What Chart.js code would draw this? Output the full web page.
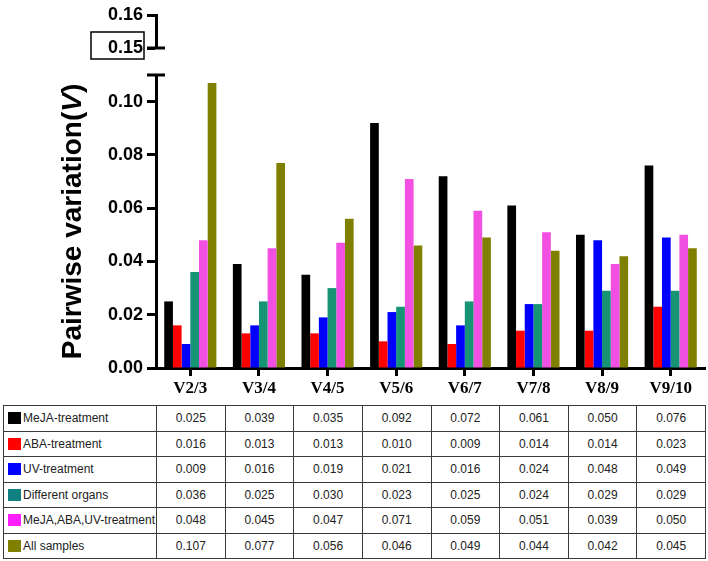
<!DOCTYPE html>
<html>
<head>
<meta charset="utf-8">
<script src="https://cdn.jsdelivr.net/npm/chart.js@4.4.1/dist/chart.umd.min.js"></script>
<style>
  html, body { margin: 0; padding: 0; background: #fff; }
  #wrap { position: relative; width: 708px; height: 561px; overflow: hidden; }
  #chartBox { position: absolute; left: 0; top: 0; width: 708px; height: 400px; }
  #tabela { position: absolute; left: 3px; top: 405px; width: 702px; table-layout: fixed;
    border-collapse: collapse; font-family: 'Liberation Sans', Arial, sans-serif; font-size: 12px; color: #222; }
  #tabela td { border: 1px solid #3a3a3a; padding: 0; text-align: center; white-space: nowrap; }
  #tabela tr { height: 25.5px; }
  #tabela td.nome { text-align: left; padding-left: 4px; }
  .quad { display: inline-block; width: 13px; height: 12px; vertical-align: -2px; margin-right: 2px; }
</style>
</head>
<body>
<div id="wrap">
  <div id="chartBox"><canvas id="variacaoChart" width="708" height="400"></canvas></div>
  <table id="tabela"></table>
</div>
<script>
// Dados do gráfico
const categorias = ['V2/3', 'V3/4', 'V4/5', 'V5/6', 'V6/7', 'V7/8', 'V8/9', 'V9/10'];
const series = ['MeJA-treatment', 'ABA-treatment', 'UV-treatment', 'Different organs', 'MeJA,ABA,UV-treatment', 'All samples'];
const meja = [0.025, 0.039, 0.035, 0.092, 0.072, 0.061, 0.050, 0.076];
const aba = [0.016, 0.013, 0.013, 0.010, 0.009, 0.014, 0.014, 0.023];
const uv = [0.009, 0.016, 0.019, 0.021, 0.016, 0.024, 0.048, 0.049];
const orgaos = [0.036, 0.025, 0.030, 0.023, 0.025, 0.024, 0.029, 0.029];
const combinado = [0.048, 0.045, 0.047, 0.071, 0.059, 0.051, 0.039, 0.050];
const todas = [0.107, 0.077, 0.056, 0.046, 0.049, 0.044, 0.042, 0.045];
const ticksPrincipais = [0, 0.02, 0.04, 0.06, 0.08, 0.10];
const ticksTopo = [0.15, 0.16];

const valores = [meja, aba, uv, orgaos, combinado, todas];
const cores = ['#000000', '#ff0000', '#0000ff', '#169474', '#f250e2', '#808000'];
const coresLegenda = ['#000000', '#ff0000', '#0000ff', '#118080', '#ff1cff', '#808000'];

const fonteEixo = { family: "'Liberation Sans', Arial, sans-serif", size: 18, weight: 'bold' };
const larguraEixo = 156;

// Tabela abaixo do gráfico
const tabela = document.getElementById('tabela');
const cols = document.createElement('colgroup');
cols.innerHTML = '<col style="width:153px">' + categorias.map(() => '<col style="width:68.625px">').join('');
tabela.appendChild(cols);
series.forEach(function(nome, i) {
  const linha = tabela.insertRow();
  const c0 = linha.insertCell(0);
  c0.className = 'nome';
  c0.innerHTML = '<span class="quad" style="background:' + coresLegenda[i] + '"></span>' + nome;
  valores[i].forEach(function(v) {
    linha.insertCell().innerText = v.toFixed(3);
  });
});

// Plugin: quebra do eixo, caixa no 0.15 e título do eixo
const quebraEixo = {
  id: 'quebraEixo',
  afterDraw(chart) {
    const c = chart.ctx;
    const y = chart.scales.y;
    const yTopo = chart.scales.yTopo;
    const x0 = chart.chartArea.left;
    c.save();
    c.strokeStyle = '#000';
    c.lineWidth = 3;
    c.beginPath();
    const p15 = yTopo.getPixelForValue(0.15);
    c.moveTo(x0 - 9, p15); c.lineTo(x0 + 9, p15);
    c.moveTo(x0 - 9, y.top); c.lineTo(x0 + 9, y.top);
    c.stroke();
    // caixa em volta do 0.15
    c.lineWidth = 1.5;
    c.strokeRect(91, p15 - 16, 53, 27);
    // título com V em itálico
    const partes = [['Pairwise variation(', 'bold'], ['V', 'italic bold'], [')', 'bold']];
    c.translate(73, (y.top + y.bottom) / 2);
    c.rotate(-Math.PI / 2);
    c.fillStyle = '#000';
    c.textBaseline = 'middle';
    let total = 0;
    partes.forEach(function(p) {
      c.font = p[1] + " 28px 'Liberation Sans', Arial, sans-serif";
      total += c.measureText(p[0]).width;
    });
    let px = -total / 2;
    partes.forEach(function(p) {
      c.font = p[1] + " 28px 'Liberation Sans', Arial, sans-serif";
      c.fillText(p[0], px, 0);
      px += c.measureText(p[0]).width;
    });
    c.restore();
  }
};

function fixarLargura(scale) { scale.width = larguraEixo; }

const ctx = document.getElementById('variacaoChart').getContext('2d');
const variacaoChart = new Chart(ctx, {
  type: 'bar',
  data: {
    labels: categorias,
    datasets: series.map(function(nome, i) {
      return {
        label: nome,
        data: valores[i],
        backgroundColor: cores[i],
        borderWidth: 0,
        yAxisID: 'y',
        categoryPercentage: 0.76,
        barPercentage: 1.0
      };
    })
  },
  options: {
    responsive: false,
    animation: false,
    layout: { padding: { top: 15, right: 3, bottom: 0, left: 0 } },
    plugins: { legend: { display: false }, tooltip: { enabled: false } },
    scales: {
      x: {
        grid: { display: true, drawOnChartArea: false, offset: false, tickLength: 8, tickWidth: 3, tickColor: '#000' },
        border: { display: true, color: '#000', width: 3 },
        ticks: { color: '#000', padding: 2, font: { family: "'Liberation Serif', 'Times New Roman', serif", size: 17, weight: 'bold' } },
        afterFit(scale) { scale.height = 32; }
      },
      y: {
        position: 'left',
        stack: 'v',
        stackWeight: 293,
        min: 0,
        max: 0.11,
        afterBuildTicks(scale) { scale.ticks = ticksPrincipais.map(v => ({ value: v })); },
        grid: { display: true, drawOnChartArea: false, tickLength: 9, tickWidth: 3, tickColor: '#000' },
        border: { display: true, color: '#000', width: 3 },
        ticks: { color: '#000', padding: 4, autoSkip: false, font: fonteEixo, callback: v => v.toFixed(2) },
        afterFit: fixarLargura
      },
      yGap: {
        type: 'linear',
        position: 'left',
        stack: 'v',
        stackWeight: 27,
        min: 0,
        max: 1,
        grid: { display: false },
        border: { display: false },
        ticks: { display: false },
        afterFit: fixarLargura
      },
      yTopo: {
        type: 'linear',
        position: 'left',
        stack: 'v',
        stackWeight: 33,
        min: 0.15,
        max: 0.16,
        afterBuildTicks(scale) { scale.ticks = ticksTopo.map(v => ({ value: v })); },
        grid: { display: true, drawOnChartArea: false, tickLength: 9, tickWidth: 3, tickColor: '#000' },
        border: { display: true, color: '#000', width: 3 },
        ticks: { color: '#000', padding: 4, autoSkip: false, font: fonteEixo, callback: v => v.toFixed(2) },
        afterFit: fixarLargura
      }
    }
  },
  plugins: [quebraEixo]
});
</script>
</body>
</html>
